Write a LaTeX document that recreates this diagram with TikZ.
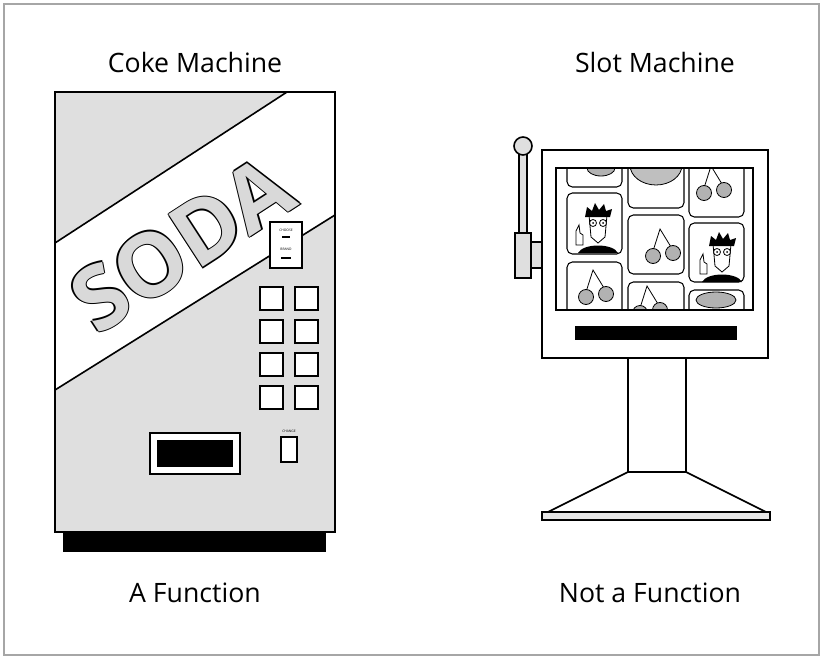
\documentclass[tikz,border=0pt]{standalone}
\usepackage{fontspec}
\setmainfont{Open Sans}
\begin{document}
\begin{tikzpicture}[x=0.75pt,y=-0.75pt,line width=1.2pt,
  lbl/.style={font=\fontsize{20}{24}\selectfont},
  btn/.style={draw,fill=white,line width=1.5pt},
  cell/.style={draw,fill=white,rounded corners=4pt,line width=0.8pt},
  cherry/.style={draw,fill=gray!60,line width=0.6pt},
  sodaf/.style={rotate=33,font=\fontsize{66}{66}\selectfont\bfseries}]
\useasboundingbox (0,0) rectangle (823,659);
\draw[gray!70,line width=1.5pt,fill=white] (4,4) rectangle (819,655);
% titles
\node[lbl] (t1) at (195,63) {Coke Machine};
\node[lbl] (t2) at (655,63) {Slot Machine};
\node[lbl] (t3) at (195,593) {A Function};
\node[lbl] (t4) at (650,593) {Not a Function};
% coke machine
\fill[gray!25] (55,92) rectangle (335,532);
\fill[white] (55,243) -- (287,92) -- (335,92) -- (335,215) -- (55,390) -- cycle;
\draw (55,243) -- (287,92) (55,390) -- (335,215);
\draw[line width=1.5pt] (55,92) rectangle (335,532);
\foreach \dx/\dy in {-1.5/0,1.5/0,0/-1.5,0/1.5}{
  \node[sodaf,text=black] at (182+\dx,244+\dy) {SODA};}
\node[sodaf,text=gray!30] (soda) at (182,244) {SODA};
\draw[btn] (270,222) rectangle (302,268);
\node[font=\fontsize{2.5}{3}\selectfont,inner sep=0pt] (l1) at (286,230) {CHOOSE};
\draw[line width=0.8pt] (282,237) -- (290,237);
\node[font=\fontsize{2.5}{3}\selectfont,inner sep=0pt] (l2) at (286,249) {BRAND};
\draw[line width=0.8pt] (281,258) -- (291,258);
\foreach \yy in {287,320,353,386}{
  \draw[btn] (260,\yy) rectangle (283,\yy+23);
  \draw[btn] (295,\yy) rectangle (318,\yy+23);}
\node[font=\fontsize{2.5}{3}\selectfont,inner sep=0pt] (l3) at (289,431) {CHANGE};
\draw[btn] (281,437) rectangle (297,462);
\draw[btn] (150,433) rectangle (240,474);
\fill (157,440) rectangle (233,467);
\fill (63,532) rectangle (326,552);
% slot machine
\draw[fill=white] (628,358) rectangle (686,472);
\draw[fill=white] (628,472) -- (686,472) -- (766,512) -- (548,512) -- cycle;
\draw[fill=gray!20] (542,512) rectangle (770,520);
\draw[fill=gray!25] (519,150) rectangle (527,235);
\draw[fill=gray!25] (523,146) circle (9);
\draw[fill=gray!25] (531,242) rectangle (543,268);
\draw[fill=gray!25] (515,233) rectangle (531,278);
\draw[fill=white] (542,150) rectangle (768,358);
\fill (575,326) rectangle (737,340);
\begin{scope}
\clip (556,168) rectangle (753,310);
\draw[cell] (567,150) rectangle (622,187);
\draw[cell] (567,193) rectangle (622,254);
\draw[cell] (567,262) rectangle (622,330);
\draw[cell] (628,150) rectangle (684,208);
\draw[cell] (628,215) rectangle (684,274);
\draw[cell] (628,282) rectangle (684,340);
\draw[cell] (689,150) rectangle (744,217);
\draw[cell] (689,223) rectangle (744,282);
\draw[cell] (689,290) rectangle (744,340);
\draw[cherry,fill=gray!50] (656,165) ellipse (26 and 20);
\draw[cherry] (601,168) ellipse (14 and 8);
\draw[cherry] (716,300) ellipse (20 and 8);
\foreach \cx/\cy in {714/190, 663/253, 596/294, 650/310}{
  \draw[line width=0.6pt] (\cx-10,\cy-2) -- (\cx-3,\cy-24) -- (\cx+8,\cy-6);
  \draw[cherry] (\cx-10,\cy+3) circle (7.5);
  \draw[cherry] (\cx+10,\cy) circle (7.5);}
\foreach \fx/\fy in {598/223, 722/252}{
  \fill (\fx-20,\fy+30) .. controls (\fx-15,\fy+20) and (\fx+15,\fy+20) .. (\fx+20,\fy+30) -- cycle;
  \draw[fill=white,line width=0.6pt] (\fx-9,\fy-8) -- (\fx+9,\fy-8) -- (\fx+7,\fy+14) -- (\fx,\fy+20) -- (\fx-7,\fy+14) -- cycle;
  \fill (\fx-13,\fy-6) -- (\fx-11,\fy-16) -- (\fx-6,\fy-12) -- (\fx-3,\fy-20) -- (\fx+1,\fy-13) -- (\fx+6,\fy-19) -- (\fx+8,\fy-12) -- (\fx+14,\fy-14) -- (\fx+12,\fy-6) -- cycle;
  \draw[line width=0.6pt,fill=white] (\fx-5,\fy) circle (3.5) (\fx+5,\fy) circle (3.5);
  \fill (\fx-5,\fy) circle (1) (\fx+5,\fy) circle (1);
  \draw[line width=0.6pt,fill=white] (\fx-22,\fy+22) -- (\fx-22,\fy+8) -- (\fx-19,\fy+2) -- (\fx-18,\fy+10) -- (\fx-15,\fy+12) -- (\fx-15,\fy+22) -- cycle;}
\end{scope}
\draw (556,168) rectangle (753,310);
\end{tikzpicture}
\end{document}
